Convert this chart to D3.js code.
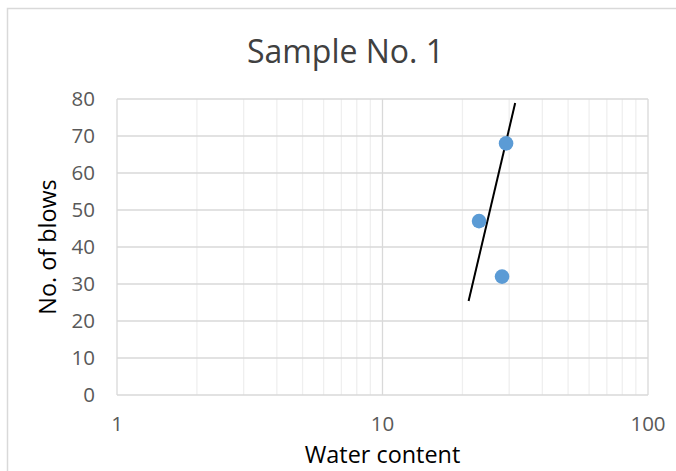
<!DOCTYPE html>
<html>
<head>
<meta charset="utf-8">
<script src="https://cdn.jsdelivr.net/npm/d3@7"></script>
<style>
    body { margin: 0; background: #fff; }
    svg { display: block; font-family: "Open Sans", sans-serif; }
    .tickLabel { fill: #595959; font-size: 20.5px; }
    .axisTitle { fill: #000; font-size: 23.4px; }
    .chartTitle { fill: #404040; font-size: 32px; }
</style>
</head>
<body>
<script>
(function (){

    //chart data
    var waterContent = [29.2, 23.1, 28.2]; //x values
    var noOfBlows = [68, 47, 32]; //y values
    var trendX = [21.1, 31.6]; //hand drawn flow line ends
    var trendY = [25.4, 78.9];
    var xTicks = [1, 10, 100];
    var yTicks = [0, 10, 20, 30, 40, 50, 60, 70, 80];

    window.onload = setChart();

    function setChart(){
        var width = 676,
            height = 471,
            left = 117,
            right = 648,
            top = 99,
            bottom = 395;

        var svg = d3.select("body")
            .append("svg")
            .attr("width", width)
            .attr("height", height);

        //outer chart frame, runs off the right and bottom
        svg.append("rect")
            .attr("x", 7.5)
            .attr("y", 8.5)
            .attr("width", 700)
            .attr("height", 500)
            .attr("fill", "none")
            .attr("stroke", "#d9d9d9")
            .attr("stroke-width", 1.5);

        var x = d3.scaleLog()
            .domain([1, 100])
            .range([left, right]);

        var y = d3.scaleLinear()
            .domain([0, 80])
            .range([bottom, top]);

        //minor vertical gridlines (2..9, 20..90)
        var minor = x.ticks().filter(function(d){
            return xTicks.indexOf(d) < 0;
        });
        svg.selectAll(".minorLines")
            .data(minor)
            .enter()
            .append("line")
            .attr("class", "minorLines")
            .attr("x1", function(d){ return x(d); })
            .attr("x2", function(d){ return x(d); })
            .attr("y1", top)
            .attr("y2", bottom)
            .attr("stroke", "#efefef")
            .attr("stroke-width", 1.3);

        //major vertical gridlines
        svg.selectAll(".majorX")
            .data(xTicks)
            .enter()
            .append("line")
            .attr("class", "majorX")
            .attr("x1", function(d){ return x(d); })
            .attr("x2", function(d){ return x(d); })
            .attr("y1", top)
            .attr("y2", bottom)
            .attr("stroke", "#d9d9d9")
            .attr("stroke-width", 1.3);

        //horizontal gridlines
        svg.selectAll(".majorY")
            .data(yTicks)
            .enter()
            .append("line")
            .attr("class", "majorY")
            .attr("x1", left)
            .attr("x2", right)
            .attr("y1", function(d){ return y(d); })
            .attr("y2", function(d){ return y(d); })
            .attr("stroke", "#d9d9d9")
            .attr("stroke-width", 1.3);

        //tick labels
        svg.selectAll(".yLabel")
            .data(yTicks)
            .enter()
            .append("text")
            .attr("class", "tickLabel")
            .attr("x", 95)
            .attr("y", function(d){ return y(d) + 7.3; })
            .attr("text-anchor", "end")
            .text(function(d){ return d; });

        svg.selectAll(".xLabel")
            .data(xTicks)
            .enter()
            .append("text")
            .attr("class", "tickLabel")
            .attr("x", function(d){ return x(d); })
            .attr("y", 431)
            .attr("text-anchor", "middle")
            .text(function(d){ return d; });

        //flow line
        svg.append("line")
            .attr("x1", x(trendX[0]))
            .attr("y1", y(trendY[0]))
            .attr("x2", x(trendX[1]))
            .attr("y2", y(trendY[1]))
            .attr("stroke", "#000")
            .attr("stroke-width", 2);

        //points
        svg.selectAll(".dot")
            .data(waterContent)
            .enter()
            .append("circle")
            .attr("class", "dot")
            .attr("cx", function(d){ return x(d); })
            .attr("cy", function(d, i){ return y(noOfBlows[i]); })
            .attr("r", 7.3)
            .attr("fill", "#5b9bd5");

        //titles
        svg.append("text")
            .attr("class", "chartTitle")
            .attr("x", 345.5)
            .attr("y", 63)
            .attr("text-anchor", "middle")
            .text("Sample No. 1");

        svg.append("text")
            .attr("class", "axisTitle")
            .attr("x", (left + right) / 2)
            .attr("y", 463)
            .attr("text-anchor", "middle")
            .text("Water content");

        svg.append("text")
            .attr("class", "axisTitle")
            .attr("transform", "translate(56," + ((top + bottom) / 2) + ") rotate(-90)")
            .attr("text-anchor", "middle")
            .text("No. of blows");
    }

})();
</script>
</body>
</html>
